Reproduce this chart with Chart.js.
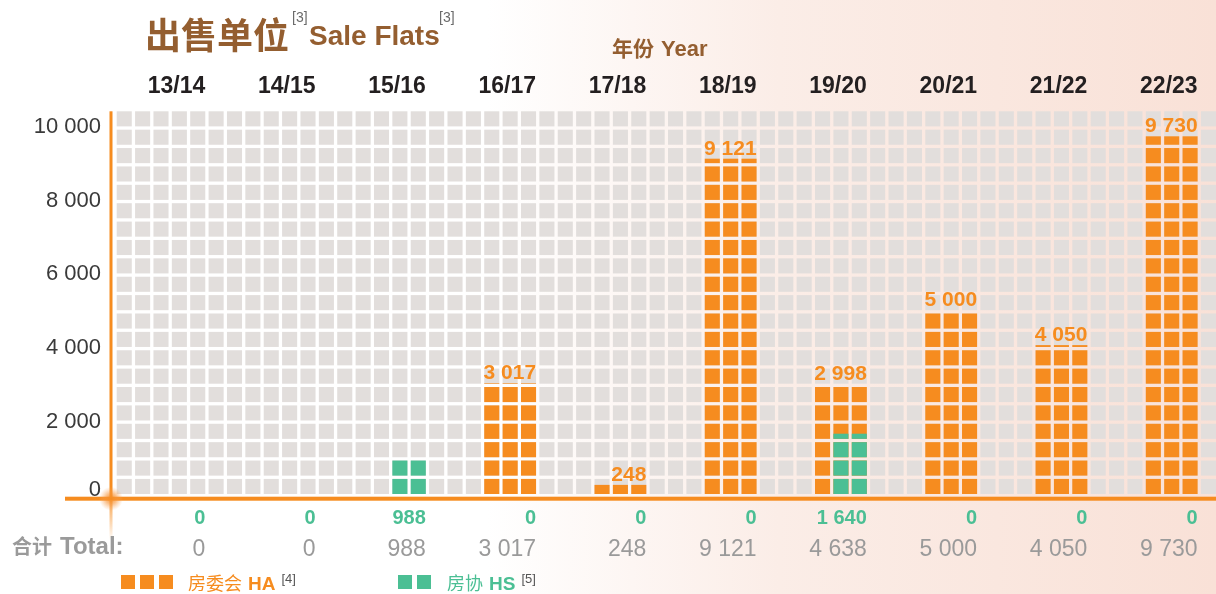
<!DOCTYPE html>
<html>
<head>
<meta charset="utf-8">
<script src="https://cdn.jsdelivr.net/npm/chart.js@4/dist/chart.umd.min.js"></script>
<style>
html,body{margin:0;padding:0;width:1216px;height:594px;overflow:hidden;
background:linear-gradient(90deg,#ffffff 0%,#ffffff 40%,#fbede7 64%,#f9e1d7 100%);}
canvas{display:block}
</style>
</head>
<body>
<canvas id="c" width="1216" height="594"></canvas>
<script>
// ---- data ----
const categories = ['13/14','14/15','15/16','16/17','17/18','18/19','19/20','20/21','21/22','22/23'];
const haValues = [0, 0, 0, 3017, 248, 9121, 2998, 5000, 4050, 9730];
const hsValues = [0, 0, 988, 0, 0, 0, 1640, 0, 0, 0];
const yTicks = [0, 2000, 4000, 6000, 8000, 10000];
const totals = haValues.map((v, i) => v + hsValues[i]);

const ORANGE = '#F68C1F';
const GREEN = '#4BBF94';
const CELL = '#E2DEDC';
const BROWN = '#945E30';
const ROW = 500, Y_MAX = 10500, COLS_PER_CAT = 6, GAP = 3.3;
const CJK = '"Noto Sans CJK SC"';
const LAT = '"Liberation Sans", Arial, sans-serif';

const fmt = n => String(n).replace(/\B(?=(\d{3})+(?!\d))/g, ' ');

function runs(ctx, x, y, parts) {
  ctx.textAlign = 'left';
  ctx.textBaseline = 'alphabetic';
  let cx = x;
  parts.forEach(p => {
    ctx.font = p.font;
    ctx.fillStyle = p.color;
    const yy = y + (p.dy || 0);
    cx += (p.dx || 0);
    ctx.fillText(p.text, cx, yy);
    cx += ctx.measureText(p.text).width;
  });
  return cx;
}

const waffle = {
  id: 'waffle',
  beforeDatasetsDraw(chart) {
    const { ctx, chartArea: a, scales: { x, y } } = chart;
    const n = categories.length;
    const W = (a.right - a.left) / n, c = W / COLS_PER_CAT;
    const rows = Y_MAX / ROW;
    ctx.save();
    ctx.fillStyle = CELL;
    for (let col = 0; col < n * COLS_PER_CAT; col++) {
      const x0 = a.left + col * c + GAP, x1 = a.left + (col + 1) * c;
      for (let r = 0; r < rows; r++) {
        const yb = y.getPixelForValue(r * ROW);
        const yt = y.getPixelForValue((r + 1) * ROW) + GAP;
        ctx.fillRect(x0, yt, x1 - x0, yb - yt);
      }
    }
    const specs = [{ ds: 0, cols: [2, 3, 4] }, { ds: 1, cols: [3, 4] }];
    specs.forEach(s => {
      const dataset = chart.data.datasets[s.ds];
      ctx.fillStyle = dataset.backgroundColor;
      dataset.data.forEach((v, k) => {
        if (!v) return;
        const L = x.getPixelForValue(k) - W / 2;
        s.cols.forEach(col => {
          const x0 = L + col * c + GAP, x1 = L + (col + 1) * c;
          for (let r = 0; r * ROW < v; r++) {
            const yb = y.getPixelForValue(r * ROW);
            const cellTop = y.getPixelForValue((r + 1) * ROW) + GAP;
            const top = Math.max(cellTop, y.getPixelForValue(Math.min(v, (r + 1) * ROW)));
            ctx.fillRect(x0, top, x1 - x0, yb - top);
          }
        });
      });
    });
    ctx.restore();
  },
  beforeDatasetDraw() { return false; },
  afterDraw(chart) {
    const { ctx, chartArea: a, scales: { x, y } } = chart;
    const n = categories.length;
    const W = (a.right - a.left) / n, c = W / COLS_PER_CAT;
    const rightEdge = k => x.getPixelForValue(k) - W / 2 + 5 * c;
    const y0 = y.getPixelForValue(0);
    ctx.save();

    // axes
    const axX = 111, axY = y0 + 4.7;
    ctx.fillStyle = ORANGE;
    ctx.fillRect(axX - 1.5, a.top + GAP, 3, axY - a.top - GAP);
    ctx.fillRect(65, axY - 2, 1216 - 65, 4);
    const fade = ctx.createLinearGradient(0, axY, 0, axY + 42);
    fade.addColorStop(0, 'rgba(246,140,31,0.8)');
    fade.addColorStop(1, 'rgba(246,140,31,0)');
    ctx.fillStyle = fade;
    ctx.fillRect(axX - 1.5, axY + 2, 3, 40);
    const glow = ctx.createRadialGradient(axX, axY, 0, axX, axY, 12);
    glow.addColorStop(0, 'rgba(246,140,31,0.95)');
    glow.addColorStop(0.45, 'rgba(247,150,60,0.6)');
    glow.addColorStop(1, 'rgba(248,170,100,0)');
    ctx.fillStyle = glow;
    ctx.beginPath(); ctx.arc(axX, axY, 12, 0, Math.PI * 2); ctx.fill();

    // y tick labels
    ctx.font = '22px ' + LAT;
    ctx.fillStyle = '#3a3a3a';
    ctx.textAlign = 'right';
    ctx.textBaseline = 'middle';
    yTicks.forEach(v => {
      const py = Math.min(y.getPixelForValue(v) + 1, y0 - 4);
      ctx.fillText(fmt(v), 101, py);
    });

    // category labels (top)
    ctx.font = 'bold 23px ' + LAT;
    ctx.fillStyle = '#231F20';
    ctx.textBaseline = 'alphabetic';
    categories.forEach((lab, k) => ctx.fillText(lab, rightEdge(k), 93));

    // bar value labels
    ctx.font = 'bold 21px ' + LAT;
    ctx.fillStyle = ORANGE;
    haValues.forEach((v, k) => {
      if (!v) return;
      ctx.fillText(fmt(v), rightEdge(k), y.getPixelForValue(v) - 4);
    });

    // HS row
    ctx.font = 'bold 20px ' + LAT;
    ctx.fillStyle = GREEN;
    hsValues.forEach((v, k) => ctx.fillText(fmt(v), rightEdge(k), 524));

    // totals row
    ctx.font = '23px ' + LAT;
    ctx.fillStyle = '#9a9a9a';
    totals.forEach((v, k) => ctx.fillText(fmt(v), rightEdge(k), 556));
    runs(ctx, 12, 554, [
      { text: '合计', font: 'bold 20px ' + CJK, color: '#9a9a9a' },
      { text: 'Total:', font: 'bold 24px ' + LAT, color: '#9a9a9a', dx: 8 }
    ]);

    // title
    runs(ctx, 145, 49, [
      { text: '出售单位', font: 'bold 36px ' + CJK, color: BROWN }
    ]);
    runs(ctx, 292, 22, [{ text: '[3]', font: '14px ' + LAT, color: '#6a6a6a' }]);
    runs(ctx, 309, 45, [{ text: 'Sale Flats', font: 'bold 28px ' + LAT, color: BROWN }]);
    runs(ctx, 439, 22, [{ text: '[3]', font: '14px ' + LAT, color: '#6a6a6a' }]);
    runs(ctx, 612, 56, [
      { text: '年份', font: 'bold 21px ' + CJK, color: BROWN },
      { text: 'Year', font: 'bold 22px ' + LAT, color: BROWN, dx: 7 }
    ]);

    // legend
    const ds = chart.data.datasets;
    ctx.fillStyle = ds[0].backgroundColor;
    [121, 140, 159].forEach(px => ctx.fillRect(px, 575, 14, 14));
    let ex = runs(ctx, 188, 590, [
      { text: '房委会', font: '18px ' + CJK, color: ds[0].backgroundColor },
      { text: ds[0].label, font: 'bold 19px ' + LAT, color: ds[0].backgroundColor, dx: 6 }
    ]);
    runs(ctx, ex + 6, 583, [{ text: '[4]', font: '13px ' + LAT, color: '#555' }]);
    ctx.fillStyle = ds[1].backgroundColor;
    [398, 417].forEach(px => ctx.fillRect(px, 575, 14, 14));
    ex = runs(ctx, 447, 590, [
      { text: '房协', font: '18px ' + CJK, color: ds[1].backgroundColor },
      { text: ds[1].label, font: 'bold 19px ' + LAT, color: ds[1].backgroundColor, dx: 6 }
    ]);
    runs(ctx, ex + 6, 583, [{ text: '[5]', font: '13px ' + LAT, color: '#555' }]);

    ctx.restore();
  }
};

new Chart(document.getElementById('c'), {
  type: 'bar',
  data: {
    labels: categories,
    datasets: [
      { label: 'HA', data: haValues, backgroundColor: ORANGE, grouped: false, categoryPercentage: 1, barPercentage: 0.5 },
      { label: 'HS', data: hsValues, backgroundColor: GREEN, grouped: false, categoryPercentage: 1, barPercentage: 0.333 }
    ]
  },
  options: {
    responsive: false,
    animation: false,
    devicePixelRatio: 1,
    layout: { padding: { left: 113.4, right: 0, top: 108, bottom: 100 } },
    scales: {
      x: { display: false },
      y: { display: false, min: 0, max: Y_MAX }
    },
    plugins: { legend: { display: false }, tooltip: { enabled: false }, title: { display: false } }
  },
  plugins: [waffle]
});
</script>
</body>
</html>
